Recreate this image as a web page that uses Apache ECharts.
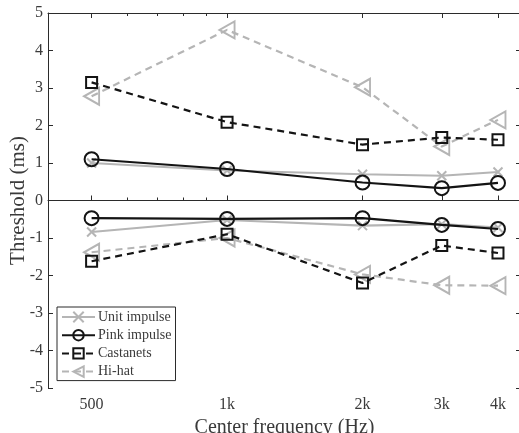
<!DOCTYPE html>
<html><head><meta charset="utf-8">
<script src="https://cdn.jsdelivr.net/npm/echarts@6/dist/echarts.min.js"></script>
<style>html,body{margin:0;padding:0;background:#fff}#c{width:519px;height:433px}</style>
</head><body><div id="c"></div>
<script>
const freqs = [500, 1000, 2000, 3000, 4000];
const tickLabels = {500: '500', 1000: '1k', 2000: '2k', 3000: '3k', 4000: '4k'};
const minorTicks = [600, 700, 800, 900];
const yTicks = [-5, -4, -3, -2, -1, 0, 1, 2, 3, 4, 5];

const unitUpper = [1.0, 0.8, 0.7, 0.66, 0.76];
const unitLower = [-0.84, -0.52, -0.67, -0.63, -0.72];
const pinkUpper = [1.1, 0.84, 0.48, 0.33, 0.47];
const pinkLower = [-0.47, -0.49, -0.47, -0.65, -0.76];
const castUpper = [3.15, 2.09, 1.49, 1.68, 1.62];
const castLower = [-1.62, -0.9, -2.2, -1.2, -1.4];
const hihatUpper = [2.78, 4.55, 3.02, 1.44, 2.15];
const hihatLower = [-1.38, -1.0, -1.97, -2.26, -2.27];

const GRAY = '#b5b5b5', BLACK = '#141414', AX = '#2b2b2b', TXT = '#3a3a3a';
const FONT = 'Liberation Serif';
const pairs = arr => freqs.map((f, i) => [f, arr[i]]);
const XPATH = 'path://M0,0L10,10M10,0L0,10';
const TRI = 'path://M0,5L10,0L10,10Z';

function mk(name, data, color, dashed, symbol, size) {
  return {
    name, type: 'line', data: pairs(data),
    symbol, symbolSize: size, showSymbol: true,
    lineStyle: {color, width: 2.2, type: dashed ? [7, 5] : 'solid'},
    itemStyle: {color: 'transparent', borderColor: color, borderWidth: 2},
    emphasis: {disabled: true}, z: color === GRAY ? 2 : 3
  };
}
const series = [
  mk('Unit impulse', unitUpper, GRAY, false, XPATH, 9),
  mk('Unit impulse', unitLower, GRAY, false, XPATH, 9),
  mk('Pink impulse', pinkUpper, BLACK, false, 'circle', 14),
  mk('Pink impulse', pinkLower, BLACK, false, 'circle', 14),
  mk('Castanets', castUpper, BLACK, true, 'rect', 11),
  mk('Castanets', castLower, BLACK, true, 'rect', 11),
  mk('Hi-hat', hihatUpper, GRAY, true, TRI, [15, 17]),
  mk('Hi-hat', hihatLower, GRAY, true, TRI, [15, 17])
];
series[0].markLine = {silent: true, symbol: 'none', label: {show: false},
  lineStyle: {color: AX, width: 1.2, type: 'solid'}, data: [{yAxis: 0}]};

const xBase = {type: 'log', logBase: 10, min: 400, max: 4500, splitLine: {show: false}, minorTick: {show: false}};
const chart = echarts.init(document.getElementById('c'), null, {renderer: 'canvas'});
chart.setOption({
  animation: false,
  backgroundColor: '#fff',
  grid: {left: 48, right: -2, top: 13, bottom: 45, containLabel: false, outerBoundsMode: 'none'},
  legend: {
    orient: 'vertical', left: 57, top: 307, padding: [3, 4, 2, 4],
    itemWidth: 33, itemHeight: 13, itemGap: 4.2,
    borderColor: AX, borderWidth: 1, backgroundColor: '#fff',
    data: ['Unit impulse', 'Pink impulse', 'Castanets', 'Hi-hat'],
    textStyle: {fontFamily: FONT, fontSize: 14, color: TXT, padding: [0, 0, 0, -2]}
  },
  xAxis: [
    Object.assign({}, xBase, {position: 'bottom', name: 'Center frequency (Hz)', nameLocation: 'middle', nameGap: 30,
      nameMoveOverlap: false,
      nameTextStyle: {fontFamily: FONT, fontSize: 20, color: TXT},
      axisLine: {show: true, lineStyle: {color: AX, width: 1}},
      axisTick: {show: true, inside: true, length: 5, customValues: freqs, lineStyle: {color: AX}},
      axisLabel: {show: true, customValues: freqs, margin: 9, fontFamily: FONT, fontSize: 16, color: TXT,
        formatter: v => tickLabels[Math.round(v)] || ''}}),
    Object.assign({}, xBase, {position: 'bottom',
      axisLine: {show: false}, axisLabel: {show: false},
      axisTick: {show: true, inside: true, length: 3, customValues: minorTicks, lineStyle: {color: AX}}}),
    Object.assign({}, xBase, {position: 'top',
      axisLine: {show: true, lineStyle: {color: AX, width: 1}}, axisLabel: {show: false},
      axisTick: {show: true, inside: true, length: 5, customValues: freqs, lineStyle: {color: AX}}}),
    Object.assign({}, xBase, {position: 'top',
      axisLine: {show: false}, axisLabel: {show: false},
      axisTick: {show: true, inside: true, length: 3, customValues: minorTicks, lineStyle: {color: AX}}})
  ],
  yAxis: [
    {type: 'value', min: -5, max: 5, interval: 1, position: 'left',
      name: 'Threshold (ms)', nameLocation: 'middle', nameGap: 19, nameMoveOverlap: false,
      nameTextStyle: {fontFamily: FONT, fontSize: 21, color: TXT},
      splitLine: {show: false},
      axisLine: {show: true, onZero: false, lineStyle: {color: AX, width: 1}},
      axisTick: {show: true, inside: true, length: 5, lineStyle: {color: AX}},
      axisLabel: {fontFamily: FONT, fontSize: 16, color: TXT, margin: 5}},
    {type: 'value', min: -5, max: 5, interval: 1, position: 'right',
      splitLine: {show: false},
      axisLine: {show: true, onZero: false, lineStyle: {color: AX, width: 1}},
      axisTick: {show: true, inside: true, length: 5, lineStyle: {color: AX}},
      axisLabel: {show: false}}
  ],
  series
});
</script></body></html>
